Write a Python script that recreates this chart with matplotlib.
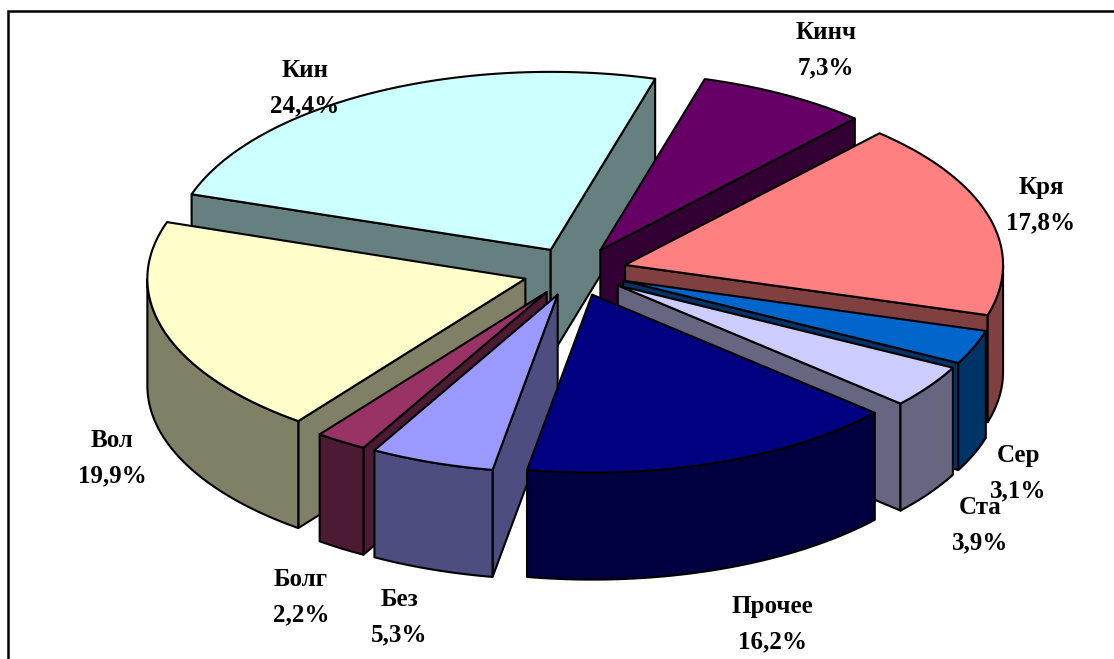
import numpy as np
import matplotlib
matplotlib.use("Agg")
import matplotlib.pyplot as plt
from matplotlib.patches import Polygon

# --- data (clockwise, first slice is Кин, ends at the start angle) ---
names = ["Кин", "Кинч", "Кря", "Сер", "Ста", "Прочее", "Без", "Болг", "Вол"]
shares = [24.4, 7.3, 17.8, 3.1, 3.9, 16.2, 5.3, 2.2, 19.9]
top_colors = ["#CCFFFF", "#660066", "#FF8080", "#0066CC", "#CCCCFF",
              "#000080", "#9999FF", "#993366", "#FFFFCC"]
wall_colors = ["#668080", "#330033", "#804040", "#003366", "#666680",
               "#000040", "#4D4D80", "#4D1A33", "#808066"]
label_centers = [(305, 88), (826, 50), (1041, 205), (1018, 473), (980, 525),
                 (772, 624), (399, 617), (301, 597), (112, 458)]

# --- pie geometry (pixels) ---
CX, CY = 575.0, 271.5
RX, RY = 378.0, 178.0
EXPLODE = 0.1375
DEPTH = 107.0
START = -71.8  # degrees clockwise from the top

W, H = 1114, 659
fig = plt.figure(figsize=(W / 100, H / 100), dpi=100, facecolor="white")
ax = fig.add_axes([0, 0, 1, 1])
ax.set_xlim(0, W)
ax.set_ylim(H, 0)
ax.axis("off")
plt.rcParams["font.family"] = ["Liberation Serif", "DejaVu Serif"]

ax.plot([8, 8, W], [H, 11, 11], color="black", lw=1.8, zorder=50,
        solid_joinstyle="miter", clip_on=True)


def rim(t, ax0, ay0, dz=0.0):
    r = np.radians(t)
    return np.column_stack((ax0 + RX * np.sin(r), ay0 - RY * np.cos(r) + dz))


shares_arr = np.array(shares)
edges = START + np.concatenate(([0], np.cumsum(shares_arr))) * 3.6
slices = []
for i in range(len(names)):
    t0, t1 = edges[i], edges[i + 1]
    mid = np.radians((t0 + t1) / 2)
    ax0 = CX + EXPLODE * RX * np.sin(mid)
    ay0 = CY - EXPLODE * RY * np.cos(mid)
    slices.append((ay0 + 0.35 * RY * -np.cos(mid), i, t0, t1, ax0, ay0))

LW = 1.5
for k, (_, i, t0, t1, ax0, ay0) in enumerate(sorted(slices)):
    z = 10 + k
    wc, tc = wall_colors[i], top_colors[i]
    kw = dict(closed=True, ec="black", lw=LW, joinstyle="round", zorder=z)
    # radial walls, only those facing the viewer
    if np.sin(np.radians(t0)) < 0:
        p = rim(np.array([t0]), ax0, ay0)[0]
        ax.add_patch(Polygon([(ax0, ay0), p, p + (0, DEPTH), (ax0, ay0 + DEPTH)], fc=wc, **kw))
    if np.sin(np.radians(t1)) > 0:
        p = rim(np.array([t1]), ax0, ay0)[0]
        ax.add_patch(Polygon([(ax0, ay0), p, p + (0, DEPTH), (ax0, ay0 + DEPTH)], fc=wc, **kw))
    # outer wall: only the front half of the rim
    lo, hi = max(t0, 90), min(t1, 270)
    if hi > lo:
        ts = np.linspace(lo, hi, 80)
        up = rim(ts, ax0, ay0)
        dn = rim(ts[::-1], ax0, ay0, DEPTH)
        ax.add_patch(Polygon(np.vstack((up, dn)), fc=wc, **kw))
    # top face
    ts = np.linspace(t0, t1, 120)
    ax.add_patch(Polygon(np.vstack(([(ax0, ay0)], rim(ts, ax0, ay0))), fc=tc, **kw))

for name, v, (x, y) in zip(names, shares, label_centers):
    txt = f"{name}\n{v:.1f}".replace(".", ",") + "%"
    ax.text(x, y, txt, ha="center", va="center", fontsize=18, fontweight="bold",
            family=["Liberation Serif", "DejaVu Serif"], color="black",
            linespacing=1.72, zorder=60)

fig.savefig("out.png", dpi=100)
